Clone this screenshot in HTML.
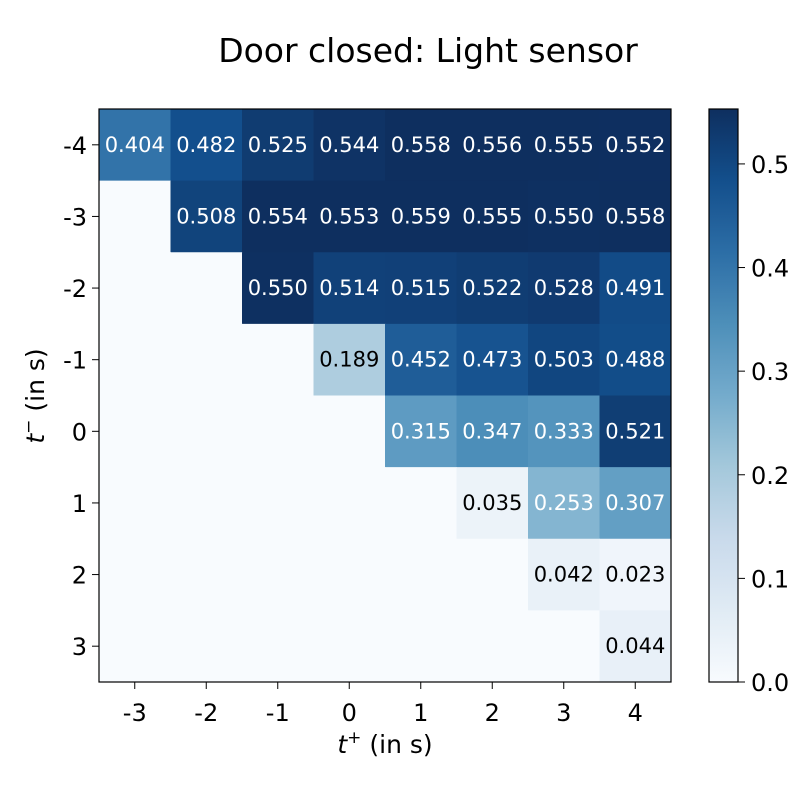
<!DOCTYPE html>
<html><head><meta charset="utf-8"><style>
body{margin:0;background:#fff;}
svg text{font-family:"DejaVu Sans","Liberation Sans",sans-serif;}
</style></head><body>
<svg id="chart" width="810" height="782">
<defs>
<linearGradient id="cbgrad" x1="0" y1="1" x2="0" y2="0"></linearGradient></defs>
<text x="428" y="62" font-size="33" text-anchor="middle">Door closed: Light sensor</text>
<g id="cells"></g>
<rect x="99" y="109" width="572" height="573" fill="none" stroke="#000" stroke-width="1.2"/>
<g id="axes"></g>
<text x="385" y="753" font-size="25" text-anchor="middle"><tspan font-style="italic">t</tspan><tspan font-size="17" dy="-10">+</tspan><tspan dy="10"> (in s)</tspan></text>
<text transform="translate(44,396) rotate(-90)" font-size="25" text-anchor="middle"><tspan font-style="italic">t</tspan><tspan font-size="17" dy="-10">−</tspan><tspan dy="10"> (in s)</tspan></text>
<rect x="709" y="109" width="29" height="573" fill="url(#cbgrad)" stroke="#000" stroke-width="1.2"/>
<g id="cbticks"></g>
</svg>
<script>
const xLabels=["-3","-2","-1","0","1","2","3","4"];
const yLabels=["-4","-3","-2","-1","0","1","2","3"];
const row0=[0.404,0.482,0.525,0.544,0.558,0.556,0.555,0.552];
const row1=[null,0.508,0.554,0.553,0.559,0.555,0.550,0.558];
const row2=[null,null,0.550,0.514,0.515,0.522,0.528,0.491];
const row3=[null,null,null,0.189,0.452,0.473,0.503,0.488];
const row4=[null,null,null,null,0.315,0.347,0.333,0.521];
const row5=[null,null,null,null,null,0.035,0.253,0.307];
const row6=[null,null,null,null,null,null,0.042,0.023];
const row7=[null,null,null,null,null,null,null,0.044];
const cbTicks=[0.0,0.1,0.2,0.3,0.4,0.5];
const rows=[row0,row1,row2,row3,row4,row5,row6,row7];
const vmax=0.553;
const NS="http://www.w3.org/2000/svg";
const X0=99,Y0=109,W=572,H=573,CW=W/8,CH=H/8;
const xs=i=>X0+i*CW, ys=j=>Y0+j*CH;
const cbY=v=>682-v/vmax*573;
const stops=[[247,251,255],[222,235,247],[198,219,239],[158,202,225],[107,174,214],[66,146,198],[33,113,181],[8,81,156],[8,48,107]];
function desat(c){const l=0.3*c[0]+0.59*c[1]+0.11*c[2];return c.map(x=>Math.round(x*0.82+l*0.18));}
function cmapT(t){t=Math.max(0,Math.min(1,t))*8;let i=Math.min(7,Math.floor(t));let f=t-i;const a=stops[i],b=stops[i+1];return `rgb(${desat(a.map((c,k)=>c+(b[k]-c)*f)).join(',')})`;}
const cmap=v=>cmapT(v/vmax);
function mk(tag,attrs,parent){const e=document.createElementNS(NS,tag);for(const k in attrs)e.setAttribute(k,attrs[k]);parent.appendChild(e);return e;}
const grad=document.getElementById('cbgrad');
for(let k=0;k<=16;k++){mk('stop',{offset:k/16,'stop-color':cmapT(k/16)},grad);}
const cells=document.getElementById('cells');
rows.forEach((r,j)=>r.forEach((v,i)=>{
 const rc=mk('rect',{x:xs(i),y:ys(j),width:CW+0.5,height:CH+0.5,fill:v==null?cmap(0):cmap(v)},cells);
 
 
 if(v!=null){
  const t=mk('text',{x:xs(i)+CW/2,y:ys(j)+CH/2+7,'font-size':21,'text-anchor':'middle',fill:v>0.2?'#fff':'#000'},cells);
  t.textContent=v.toFixed(3);
  
  
 }
}));
const axes=document.getElementById('axes');
xLabels.forEach((l,i)=>{
 mk('line',{x1:xs(i)+CW/2,x2:xs(i)+CW/2,y1:682,y2:689,stroke:'#000'},axes);
 const t=mk('text',{x:xs(i)+CW/2,y:721,'font-size':24,'text-anchor':'middle'},axes);
 t.textContent=l;
 
 
});
yLabels.forEach((l,j)=>{
 mk('line',{x1:92,x2:99,y1:ys(j)+CH/2,y2:ys(j)+CH/2,stroke:'#000'},axes);
 const t=mk('text',{x:87,y:ys(j)+CH/2+9,'font-size':24,'text-anchor':'end'},axes);
 t.textContent=l;
 
 
});
const cbt=document.getElementById('cbticks');
cbTicks.forEach(v=>{
 mk('line',{x1:738,x2:745,y1:cbY(v),y2:cbY(v),stroke:'#000'},cbt);
 const t=mk('text',{x:751,y:cbY(v)+9,'font-size':24},cbt);
 t.textContent=v.toFixed(1);
 
 
});
</script>
</body></html>
